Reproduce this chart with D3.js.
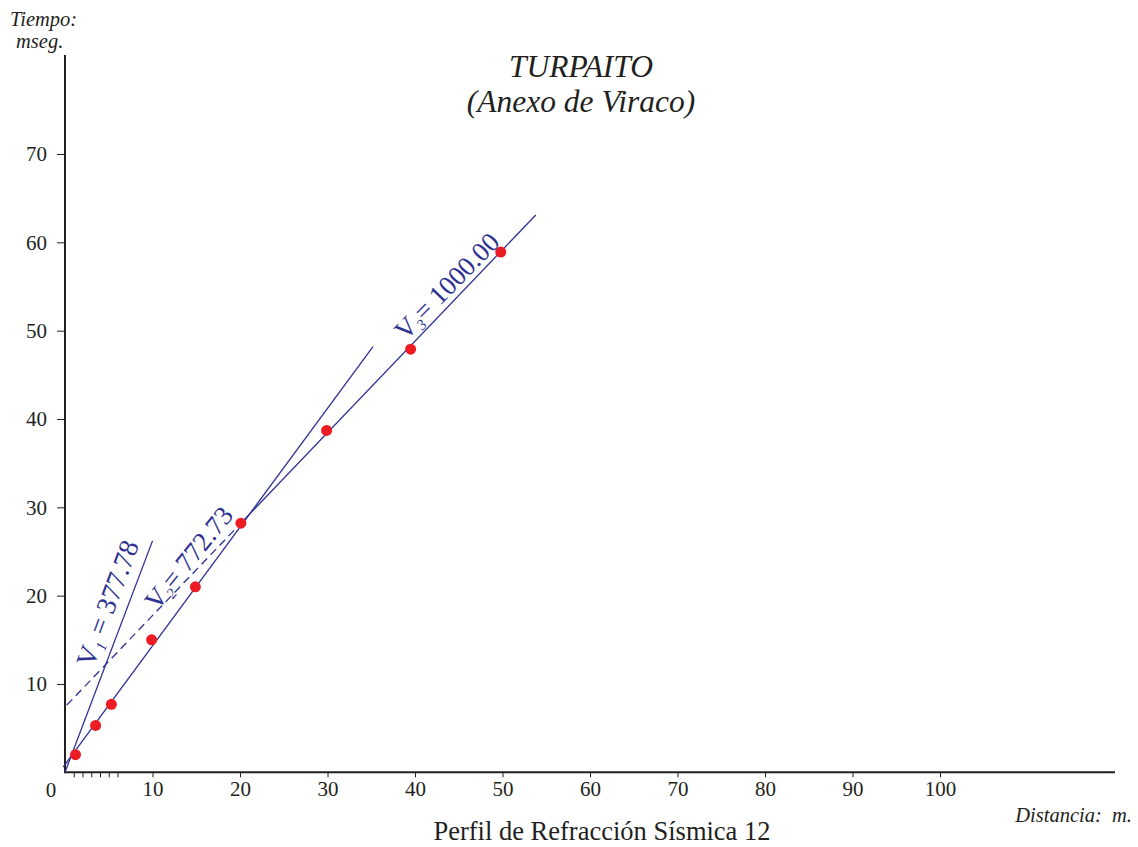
<!DOCTYPE html>
<html><head><meta charset="utf-8">
<script src="https://cdn.jsdelivr.net/npm/d3@7"></script>
<style>
body{margin:0;background:#fff;}
svg text{font-family:"Liberation Serif","Times New Roman",serif;fill:#231f20;}
</style></head>
<body><svg id="c" width="1138" height="847"></svg>
<script>
// ---- data ----
const distances = [1.2, 3.5, 5.3, 9.9, 14.9, 20.1, 29.9, 39.5, 49.8];
const times     = [2.0, 5.3, 7.7, 15.0, 21.0, 28.2, 38.7, 47.9, 58.9];
const xTicks = [10, 20, 30, 40, 50, 60, 70, 80, 90, 100];
const xMinorTicks = [1, 2, 3, 4, 5, 6];
const yTicks = [10, 20, 30, 40, 50, 60, 70];
// segments [x0, t0, x1, t1]
const lineV1 = [0, 0, 10, 26.2];
const lineV2 = [-0.2, 0.6, 35.2, 48.2];
const lineV3dashed = [0.2, 7.6, 20.1, 28.2];
const lineV3 = [20.1, 28.2, 53.8, 63.1];
const velLabels = ["V", "V", "V"];
const velSubs = ["1", "2", "3"];
const velValues = [" = 377.78", "= 772.73", "= 1000.00"];
// label baseline starts (data units)
const labelX = [3.2, 10.5, 38.9];
const labelT = [11.75, 18.2, 48.8];
const labelAngle = [-69.5, -51, -45.5];
const labelSize = [27.5, 27, 27];
const titleLines = ["TURPAITO", "(Anexo de Viraco)"];

const navy = "#2e3192", red = "#ed1c24", ink = "#231f20";
const svg = d3.select("#c");
const x = d3.scaleLinear().domain([0, 100]).range([65, 940]);
const y = d3.scaleLinear().domain([0, 70]).range([772.3, 154]);

// axes
const xAxis = svg.append("g").attr("transform", `translate(0,${y(0)})`)
  .call(d3.axisBottom(x).tickValues(xTicks).tickSize(5).tickPadding(4).tickFormat(d3.format("d")));
const xMinor = svg.append("g").attr("transform", `translate(0,${y(0)})`)
  .call(d3.axisBottom(x).tickValues(xMinorTicks).tickSize(5).tickFormat(""));
const yAxis = svg.append("g").attr("transform", `translate(${x(0)},0)`)
  .call(d3.axisLeft(y).tickValues(yTicks).tickSize(8).tickPadding(10).tickFormat(d3.format("d")));
[xAxis, xMinor, yAxis].forEach(g => {
  g.select(".domain").remove();
  g.selectAll("line").attr("stroke", ink).attr("stroke-width", 1);
  g.selectAll("text").attr("font-size", 21).attr("font-family", "Liberation Serif").attr("fill", ink);
});
svg.append("line").attr("x1", x(0)).attr("x2", 1115).attr("y1", y(0)).attr("y2", y(0))
  .attr("stroke", ink).attr("stroke-width", 2);
svg.append("line").attr("x1", x(0)).attr("x2", x(0)).attr("y1", y(0) + 1).attr("y2", 55)
  .attr("stroke", ink).attr("stroke-width", 2);
svg.append("text").attr("x", 51).attr("y", 797).attr("text-anchor", "middle").attr("font-size", 21).text("0");

// lines
function seg(s, dashed) {
  svg.append("line").attr("x1", x(s[0])).attr("y1", y(s[1])).attr("x2", x(s[2])).attr("y2", y(s[3]))
    .attr("stroke", navy).attr("stroke-width", 1.3)
    .attr("stroke-dasharray", dashed ? "8,5" : null);
}
seg(lineV1); seg(lineV2); seg(lineV3dashed, true); seg(lineV3);

// points
svg.selectAll("circle.p").data(distances.map((d, i) => [d, times[i]])).enter()
  .append("circle").attr("class", "p")
  .attr("cx", d => x(d[0])).attr("cy", d => y(d[1])).attr("r", 5.5).attr("fill", red);

// velocity labels
velLabels.forEach((v, i) => {
  const t = svg.append("text")
    .attr("transform", `translate(${x(labelX[i])},${y(labelT[i])}) rotate(${labelAngle[i]})`)
    .attr("font-size", labelSize[i]).style("fill", navy);
  t.append("tspan").text(v);
  t.append("tspan").attr("font-size", 15).attr("font-style", "italic").attr("dy", 5).text(velSubs[i]);
  t.append("tspan").attr("dy", -5).text(velValues[i]);
});

// titles
svg.append("text").attr("x", 581).attr("y", 77).attr("text-anchor", "middle")
  .attr("font-size", 31.5).attr("font-style", "italic").text(titleLines[0]);
svg.append("text").attr("x", 581).attr("y", 112).attr("text-anchor", "middle")
  .attr("font-size", 31.5).attr("font-style", "italic").text(titleLines[1]);

svg.append("text").attr("x", 10).attr("y", 26).attr("font-size", 20.5).attr("font-style", "italic").text("Tiempo:");
svg.append("text").attr("x", 16).attr("y", 48).attr("font-size", 20.5).attr("font-style", "italic").text("mseg.");
svg.append("text").attr("x", 1132).attr("y", 822).attr("text-anchor", "end").attr("font-size", 20.5)
  .attr("font-style", "italic").attr("xml:space", "preserve").style("white-space", "pre").text("Distancia:  m.");
svg.append("text").attr("x", 602).attr("y", 840).attr("text-anchor", "middle").attr("font-size", 26.5)
  .text("Perfil de Refracción Sísmica 12");
</script></body></html>
